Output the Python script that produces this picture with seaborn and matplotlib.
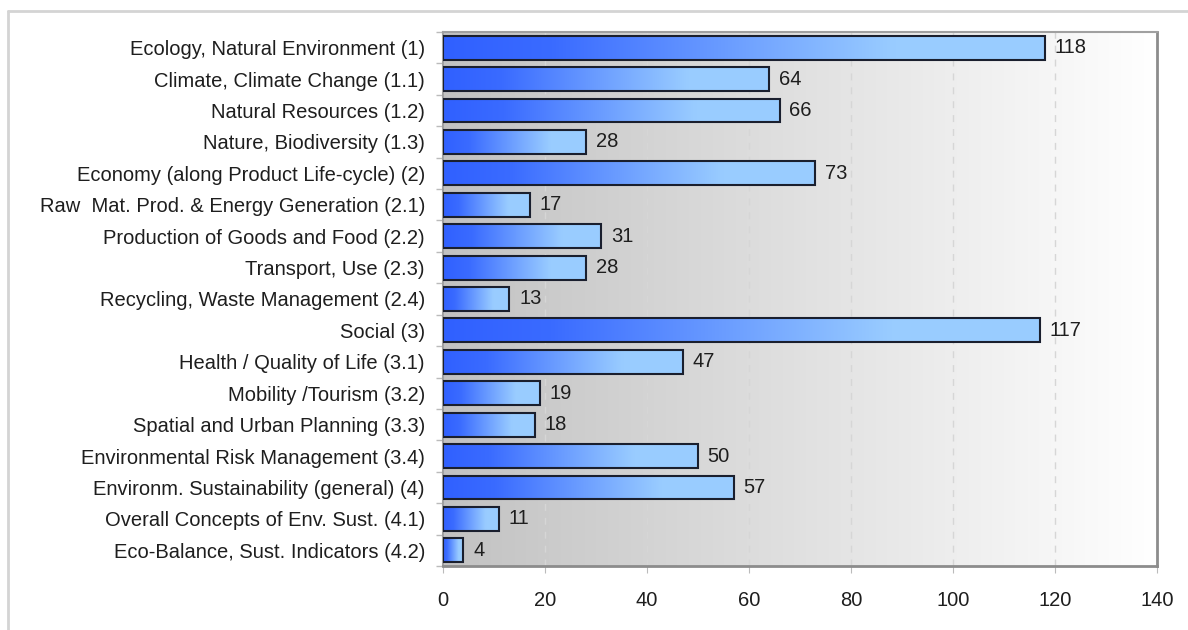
import numpy as np
import pandas as pd
import seaborn as sns
import matplotlib.pyplot as plt
from matplotlib.colors import LinearSegmentedColormap
from matplotlib.lines import Line2D

categories = [
    "Ecology, Natural Environment (1)",
    "Climate, Climate Change (1.1)",
    "Natural Resources (1.2)",
    "Nature, Biodiversity (1.3)",
    "Economy (along Product Life-cycle) (2)",
    "Raw  Mat. Prod. & Energy Generation (2.1)",
    "Production of Goods and Food (2.2)",
    "Transport, Use (2.3)",
    "Recycling, Waste Management (2.4)",
    "Social (3)",
    "Health / Quality of Life (3.1)",
    "Mobility /Tourism (3.2)",
    "Spatial and Urban Planning (3.3)",
    "Environmental Risk Management (3.4)",
    "Environm. Sustainability (general) (4)",
    "Overall Concepts of Env. Sust. (4.1)",
    "Eco-Balance, Sust. Indicators (4.2)",
]
counts = [118, 64, 66, 28, 73, 17, 31, 28, 13, 117, 47, 19, 18, 50, 57, 11, 4]
x_ticks = [0, 20, 40, 60, 80, 100, 120, 140]

df = pd.DataFrame({"category": categories, "count": counts})

sns.set_style("white")
plt.rcParams["font.family"] = ["Liberation Sans", "DejaVu Sans"]

fig = plt.figure(figsize=(11.88, 6.3), dpi=100)
ax = fig.add_axes([443 / 1188, 1 - 566 / 630, (1157 - 443) / 1188, (566 - 32) / 630])

sns.barplot(data=df, x="count", y="category", orient="h", ax=ax, width=0.76,
            color="#3366ff", edgecolor="#1a1f2e", linewidth=1.5, zorder=3)

# gradient fill inside each bar
bar_cmap = LinearSegmentedColormap.from_list(
    "bar", [(0, "#3060ff"), (0.18, "#3a6bff"), (0.75, "#99ccff"), (1, "#9acdff")])
grad = np.linspace(0, 1, 256).reshape(1, -1)
for p in ax.patches:
    x0, y0 = p.get_x(), p.get_y()
    w, h = p.get_width(), p.get_height()
    im = ax.imshow(grad, cmap=bar_cmap, aspect="auto", zorder=2,
                   extent=(x0, x0 + w, y0 + h, y0), interpolation="bicubic")
    im.set_clip_path(p)
    p.set_facecolor("none")

# background gradient
bg_cmap = LinearSegmentedColormap.from_list("bg", ["#c2c2c2", "#ffffff"])
ax.imshow(grad, cmap=bg_cmap, aspect="auto", zorder=0,
          extent=(0, 140, len(categories) - 0.5, -0.5))

ax.set_xlim(0, 140)
ax.set_ylim(len(categories) - 0.5, -0.5)
ax.set_xticks(x_ticks)
ax.set_xlabel("")
ax.set_ylabel("")

ax.set_axisbelow(True)
ax.grid(axis="x", color="#d6d6d6", linestyle=(0, (5, 5)), linewidth=1)

ax.bar_label(ax.containers[0], padding=7, fontsize=14.5, color="#1e1e1e")

ax.set_yticks(np.arange(len(categories) + 1) - 0.5, minor=True)
ax.tick_params(axis="y", which="major", length=0, pad=13, labelsize=14.5, labelcolor="#1e1e1e")
ax.tick_params(axis="y", which="minor", length=5, color="#bbbbbb", width=1, left=True)
ax.tick_params(axis="x", which="major", length=5, color="#bbbbbb", pad=13,
               labelsize=14.5, labelcolor="#1e1e1e", bottom=True)

for side in ["top", "left"]:
    ax.spines[side].set_color("#a0a0a0")
    ax.spines[side].set_linewidth(1.5)
for side in ["right", "bottom"]:
    ax.spines[side].set_color("#8c8c8c")
    ax.spines[side].set_linewidth(2)

# outer border of the picture
fig.add_artist(Line2D([8 / 1188, 1], [1 - 11 / 630, 1 - 11 / 630], color="#d4d4d4", lw=2))
fig.add_artist(Line2D([8 / 1188, 8 / 1188], [0, 1 - 11 / 630], color="#d4d4d4", lw=2))

plt.savefig("out.png", dpi=100)
